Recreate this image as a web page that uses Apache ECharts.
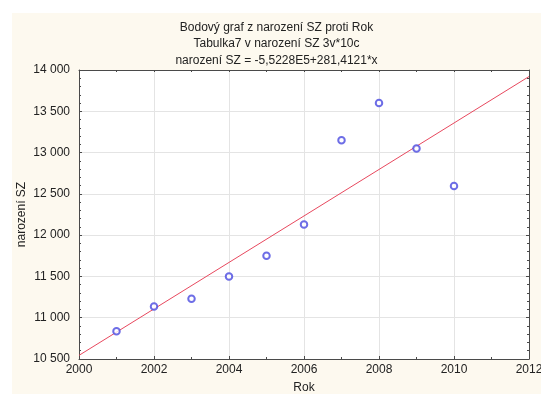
<!DOCTYPE html>
<html>
<head>
<meta charset="utf-8">
<script src="https://cdn.jsdelivr.net/npm/echarts@6/dist/echarts.min.js"></script>
<style>
html,body{margin:0;padding:0;background:#ffffff;}
#main{position:absolute;left:12px;top:13px;width:529px;height:381px;}
</style>
</head>
<body>
<div id="main"></div>
<script>
// Data
var years = [2001, 2002, 2003, 2004, 2005, 2006, 2007, 2008, 2009, 2010];
var births = [10835, 11135, 11230, 11500, 11750, 12130, 13150, 13600, 13050, 12595];
// Fitted line endpoints (narození SZ = -5,5228E5 + 281,4121*x)
var fitYears = [2000, 2012];
var fitValues = [10544, 13921];
var titleLines = ['Bodový graf z narození SZ proti Rok', 'Tabulka7 v narození SZ 3v*10c', 'narození SZ = -5,5228E5+281,4121*x'];

var chart = echarts.init(document.getElementById('main'));
function fmt(v){ var s = String(Math.round(v)); return s.length > 4 ? s.slice(0, s.length-3) + ' ' + s.slice(-3) : s; }
var font = 'Liberation Sans, Arial, sans-serif';
var axisColor = '#4a4a4a';
var scatterData = years.map(function(y, i){ return [y, births[i]]; });
var fitData = fitYears.map(function(y, i){ return [y, fitValues[i]]; });

chart.setOption({
  backgroundColor: '#fdf9ef',
  animation: false,
  title: {
    text: titleLines.join('\n'),
    left: 'center', top: 0,
    padding: [6, 0, 5, 7],
    textStyle: {fontFamily: font, fontSize: 12, fontWeight: 'normal', color: '#222', lineHeight: 16.5}
  },
  grid: {left: 67, right: 12, top: 57, bottom: 35, show: true, backgroundColor: '#ffffff', borderWidth: 0, outerBoundsMode: 'none', containLabel: false},
  xAxis: [{
    type: 'value', min: 2000, max: 2012, interval: 2,
    name: 'Rok', nameLocation: 'middle', nameGap: 23, nameMoveOverlap: false,
    nameTextStyle: {fontFamily: font, fontSize: 12, color: '#222'},
    axisLine: {show: true, lineStyle: {color: axisColor, width: 1}},
    axisTick: {show: true, inside: true, length: 3, lineStyle: {color: axisColor}},
    minorTick: {show: true, splitNumber: 2, length: 2, lineStyle: {color: axisColor}},
    axisLabel: {fontFamily: font, fontSize: 12, color: '#222', margin: 5, formatter: function(v){ return String(v); }},
    splitLine: {show: true, lineStyle: {color: '#e4e4e4', width: 1}}
  }, {
    type: 'value', min: 2000, max: 2012, interval: 1, position: 'top',
    axisLine: {show: true, onZero: false, lineStyle: {color: axisColor, width: 1}},
    axisTick: {show: true, inside: true, length: 2, lineStyle: {color: axisColor}},
    axisLabel: {show: false}, splitLine: {show: false}
  }],
  yAxis: [{
    type: 'value', min: 10500, max: 14000, interval: 500,
    name: 'narození SZ', nameLocation: 'middle', nameGap: 51, nameMoveOverlap: false,
    nameTextStyle: {fontFamily: font, fontSize: 12, color: '#222'},
    axisLine: {show: true, lineStyle: {color: axisColor, width: 1}},
    axisTick: {show: true, inside: true, length: 3, lineStyle: {color: axisColor}},
    minorTick: {show: true, splitNumber: 5, length: 2, lineStyle: {color: axisColor}},
    axisLabel: {fontFamily: font, fontSize: 12, color: '#222', margin: 9, formatter: fmt},
    splitLine: {show: true, lineStyle: {color: '#e4e4e4', width: 1}}
  }, {
    type: 'value', min: 10500, max: 14000, interval: 500, position: 'right',
    axisLine: {show: true, onZero: false, lineStyle: {color: axisColor, width: 1}},
    axisTick: {show: true, inside: true, length: 3, lineStyle: {color: axisColor}},
    minorTick: {show: true, splitNumber: 5, length: 2, lineStyle: {color: axisColor}},
    axisLabel: {show: false}, splitLine: {show: false}
  }],
  series: [{
    type: 'line', data: fitData, symbol: 'none', silent: true,
    lineStyle: {color: '#e8485e', width: 1}, z: 2
  }, {
    type: 'scatter', data: scatterData, symbol: 'emptyCircle', symbolSize: 6.5,
    itemStyle: {color: '#4848e0', borderColor: '#4848e0', borderWidth: 1}, z: 3
  }]
});
</script>
</body>
</html>
